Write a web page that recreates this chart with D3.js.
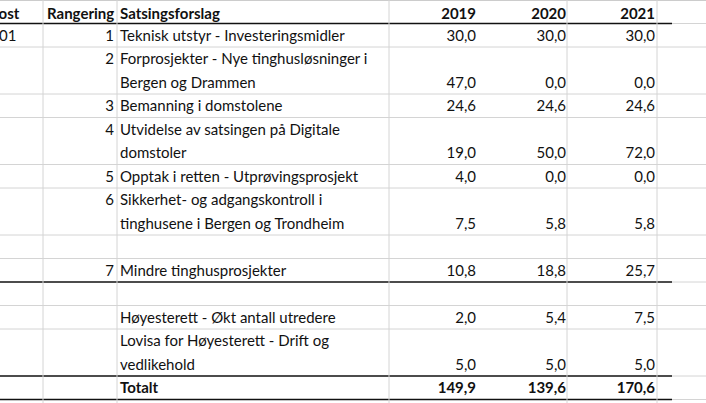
<!DOCTYPE html>
<html><head><meta charset="utf-8">
<script src="https://cdn.jsdelivr.net/npm/d3@7"></script>
<style>body{margin:0;background:#fff}text{font-family:Lato,"Open Sans",sans-serif;font-size:15px;fill:#111}</style>
</head><body><svg id="c" width="706" height="403"></svg>
<script>
const years = ["2019","2020","2021"];
const ranks = ["1","2","3","4","5","6","","7","","","",""];
const postLabels = ["01","","","","","","","","","","",""];
const labels = [
 ["Teknisk utstyr - Investeringsmidler"],
 ["Forprosjekter - Nye tinghusløsninger i","Bergen og Drammen"],
 ["Bemanning i domstolene"],
 ["Utvidelse av satsingen på Digitale","domstoler"],
 ["Opptak i retten - Utprøvingsprosjekt"],
 ["Sikkerhet- og adgangskontroll i","tinghusene i Bergen og Trondheim"],
 [""],
 ["Mindre tinghusprosjekter"],
 [""],
 ["Høyesterett - Økt antall utredere"],
 ["Lovisa for Høyesterett - Drift og","vedlikehold"],
 ["Totalt"]
];
const v2019 = [30.0,47.0,24.6,19.0,4.0,7.5,null,10.8,null,2.0,5.0,149.9];
const v2020 = [30.0,0.0,24.6,50.0,0.0,5.8,null,18.8,null,5.4,5.0,139.6];
const v2021 = [30.0,0.0,24.6,72.0,0.0,5.8,null,25.7,null,7.5,5.0,170.6];
const values = [v2019,v2020,v2021];

const svg = d3.select("#c");
const lineH = 23.5, topY = 23.5;
const fmt = v => v==null ? "" : d3.format(".1f")(v).replace(".",",");
const rowY = []; let yy = topY;
labels.forEach(l=>{ rowY.push(yy); yy += lineH*l.length; });
rowY.push(yy);
const colLines = [43,117,389,567,657];
const yearRight = [476,566,655];
const thick = new Set([0,8,11,12]);
svg.append("line").attr("x1",0).attr("x2",706).attr("y1",0.5).attr("y2",0.5).attr("stroke","#ccc");
rowY.forEach((ry,i)=>{
  const t = thick.has(i);
  svg.append("line").attr("x1",0).attr("x2",t?672:706).attr("y1",ry).attr("y2",ry)
    .attr("stroke",t?"#111":"#d4d4d4").attr("stroke-width",t?1.6:1);
  if(t) svg.append("line").attr("x1",672).attr("x2",706).attr("y1",ry).attr("y2",ry).attr("stroke","#d4d4d4");
});
colLines.forEach(x=>svg.append("line").attr("x1",x).attr("x2",x).attr("y1",0).attr("y2",403).attr("stroke","#d4d4d4"));
const hy = 19;
svg.append("text").attr("x",-10).attr("y",hy).text("post").style("font-weight","bold");
svg.append("text").attr("x",47).attr("y",hy).text("Rangering").style("font-weight","bold");
svg.append("text").attr("x",120).attr("y",hy).text("Satsingsforslag").style("font-weight","bold");
years.forEach((yr,j)=>svg.append("text").attr("x",yearRight[j]).attr("y",hy).attr("text-anchor","end").style("font-weight","bold").text(yr));
labels.forEach((l,i)=>{
  const base = rowY[i]+17;
  const last = rowY[i+1]-6.5;
  svg.append("text").attr("x",-1).attr("y",base).text(postLabels[i]);
  svg.append("text").attr("x",114).attr("y",base).attr("text-anchor","end").text(ranks[i]);
  l.forEach((s,k)=>svg.append("text").attr("x",120).attr("y",base+k*lineH).text(s).style("font-weight",i===11?"bold":null));
  values.forEach((vals,j)=>svg.append("text").attr("x",yearRight[j]).attr("y",last).attr("text-anchor","end").style("font-weight",i===11?"bold":null).text(fmt(vals[i])));
});
</script></body></html>
